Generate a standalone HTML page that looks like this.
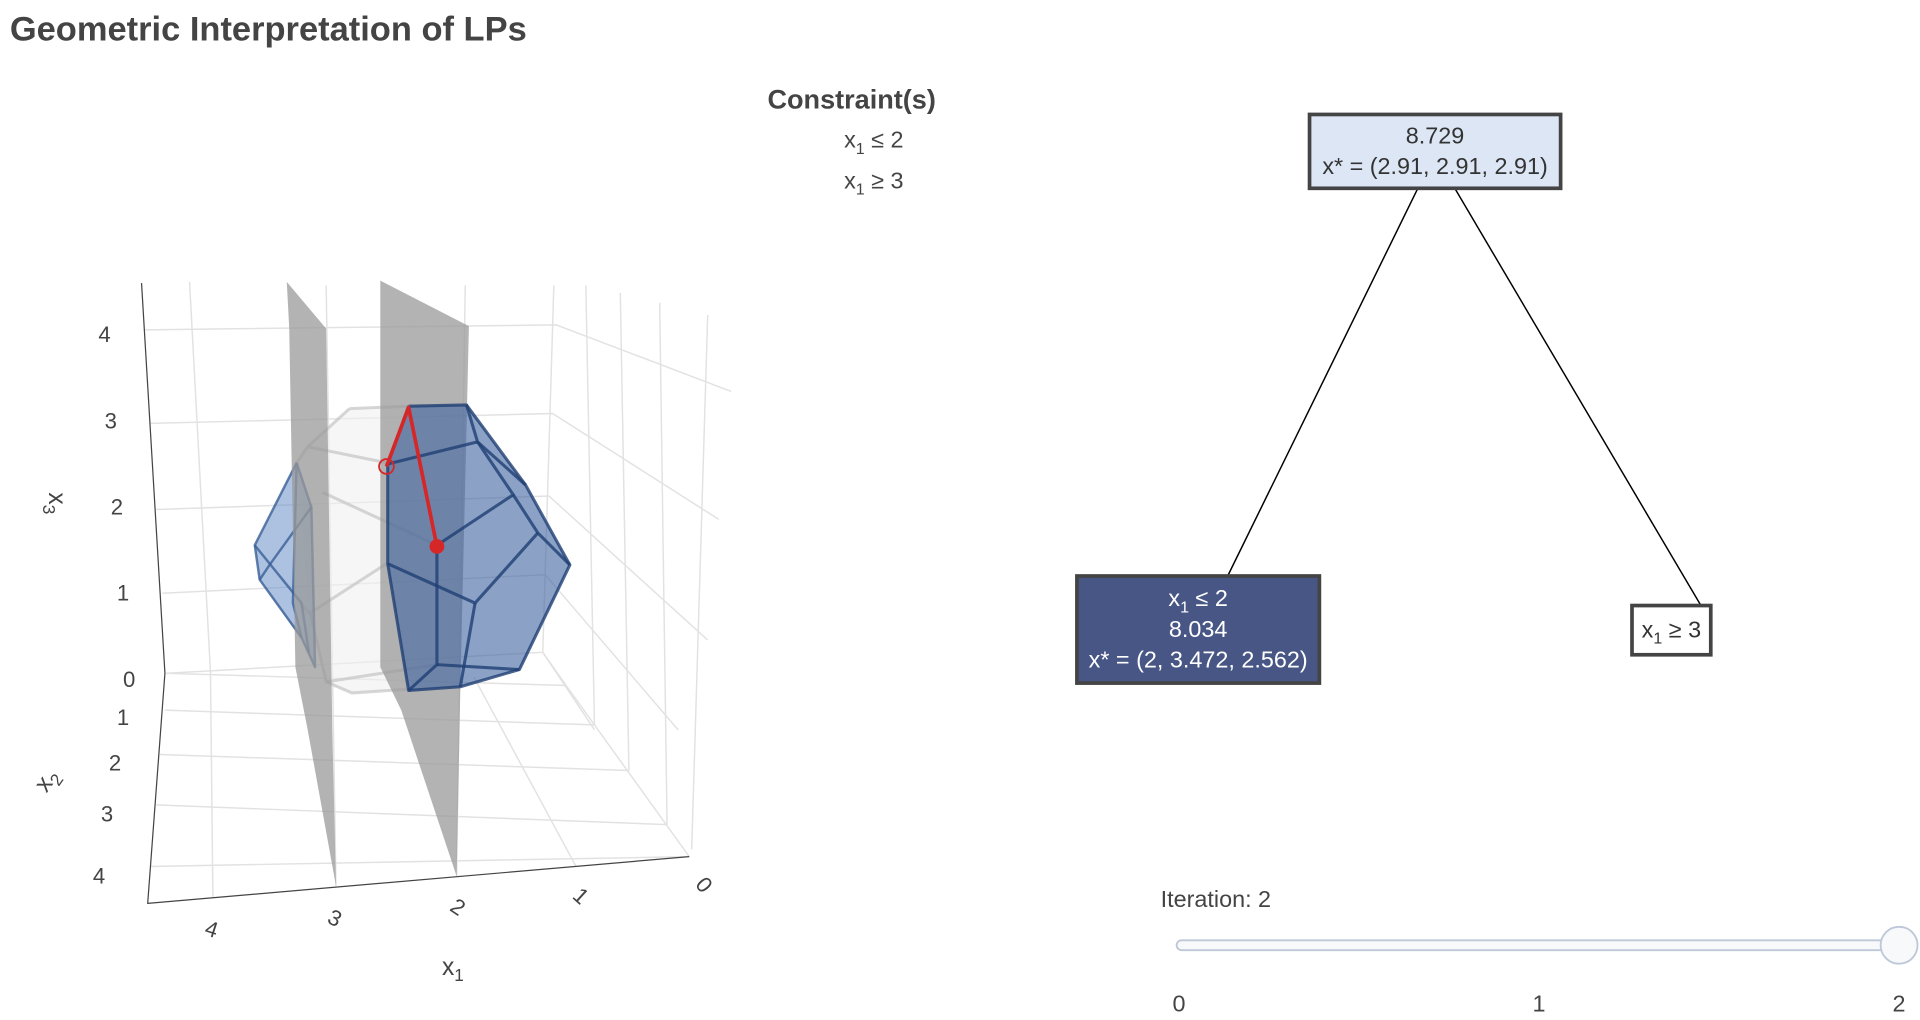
<!DOCTYPE html>
<html><head><meta charset="utf-8"><style>
html,body{margin:0;padding:0;background:#fff;}
svg{display:block;font-family:"Liberation Sans",Arial,sans-serif;}
</style></head><body>
<svg id="fig" width="1920" height="1020" viewBox="0 0 1560 828.75" xmlns="http://www.w3.org/2000/svg">
<text x="8" y="33" font-size="28" font-weight="bold" fill="#444">Geometric Interpretation of LPs</text>
<g fill="#444" text-anchor="middle">
<text x="692" y="88" font-size="22" font-weight="bold">Constraint(s)</text>
<text x="710" y="120" font-size="19">x<tspan font-size="13" dy="5">1</tspan><tspan dy="-5"> ≤ 2</tspan></text>
<text x="710" y="153" font-size="19">x<tspan font-size="13" dy="5">1</tspan><tspan dy="-5"> ≥ 3</tspan></text>
</g>
<g id="scene"></g>
<g id="tree"></g>
<g id="slider"></g>
</svg>
<script>
const NS='http://www.w3.org/2000/svg';
const z3Ticks=['0','1','2','3','4'];
const x2Ticks=['1','2','3','4'];
const x1Ticks=['4','3','2','1','0'];
const treeLabels=[['8.729','x* = (2.91, 2.91, 2.91)'],['x₁ ≤ 2','8.034','x* = (2, 3.472, 2.562)'],['x₁ ≥ 3']];
const treeParents=[-1,0,0];
const treeActive=[false,true,false];
const sliderTicks=['0','1','2'];
const sliderValue=2;
function mk(tag,attrs,parent){const e=document.createElementNS(NS,tag);for(const k in attrs)e.setAttribute(k,attrs[k]);parent.appendChild(e);return e;}
const scene=document.getElementById('scene');
function poly(pts,fill,op,parent,name){const e=mk('polygon',{points:pts,fill:fill,'fill-opacity':op},parent);return e;}
function line(p,stroke,w,parent,name,op){const e=mk('polyline',{points:p,fill:'none',stroke:stroke,'stroke-width':w,'stroke-opacity':op||1,'stroke-linejoin':'round'},parent);return e;}
const G='#e2e2e2';
[['118,268 452,264 594,318'],['122,344 449,336 584,422'],['127,414 446,403 575,520'],['132,482 443,467 551,593'],['136,547 441,530 483,593']].forEach((p,i)=>line(p[0],G,1.2,scene,'back-gridline-z'+i));
[['135,547 460,557'],['134,577 483,589'],['130,613 511,626'],['127,654 542,670'],['122,704 560,696']].forEach((p,i)=>line(p[0],G,1.2,scene,'floor-gridline-x2-'+i));
[['154,229 171,546 173,730'],['265,232 273,720'],['378,232 371,712'],['450,232 441,530 460,557'],['385,550 468,704'],['460,557 560,696']].forEach((p,i)=>line(p[0],G,1.2,scene,'gridline-x1-'+i));
[['476,232 483,589'],['504,238 511,626'],['536,246 542,670'],['575,256 562,690']].forEach((p,i)=>line(p[0],G,1.2,scene,'side-gridline-'+i));
line('115,230 134,547 120,734 560,696','#444',1,scene,'axis-lines');
poly('284,332 332,330 314,376 314,458 331,560 286,563 265,554 251,498 241,376 250,363','#f0f0f0',0.6,scene,'full-polytope');
['284,332 332,330','284,332 250,363 241,376','250,363 314,376','262,400 355,443','314,458 252,498 265,554 286,563 331,560','265,554 355,540','251,498 244,490'].forEach((p,i)=>line(p,'#c4c4c4',2.5,scene,'full-polytope-edge-'+i,0.7));
poly('241,376 253,412 256,542 245,520 211,471 207,443','#5b86c4',0.5,scene,'polytope-x1-ge-3');
['241,376 207,443 211,471 245,518 256,542 253,412 241,376','253,412 219,459 211,471','207,443 245,490 251,530','241,376 238,490 245,518'].forEach((p,i)=>line(p,'#3a5f96',2,scene,'polytope-x1-ge-3-edge-'+i,0.8));
poly('233,229 265,267 270,593 273,720 250,593 240,542 235,267','#999',0.75,scene,'plane-x1-eq-3');
poly('309,228 381,265 374,560 371,712 326,577 309,542','#999',0.75,scene,'plane-x1-eq-2');
poly('332,330 379,329 427,394 463,459 422,544 374,558 332,561 315,458 315,377','#3d64a0',0.6,scene,'polytope-x1-le-2');
['332,330 379,329 388,359 427,394 463,459 422,544 374,558 332,561 315,458 315,377 332,330','315,377 388,359','388,359 417,402 355,443','417,402 437,433 463,459','437,433 386,490 315,458','386,490 374,558','355,443 355,540 332,561','355,540 422,544','379,329 427,394'].forEach((p,i)=>line(p,'#1f3f73',2.5,scene,'polytope-x1-le-2-edge-'+i,0.8));
line('314,379 332,331 355,444','#d62728',3,scene,'solution-path');
let c=mk('circle',{cx:314,cy:379,r:6,fill:'none',stroke:'#d62728','stroke-width':1.5},scene);

c=mk('circle',{cx:355,cy:444,r:6,fill:'#d62728'},scene);

function txt(x,y,s,parent,name,attrs){const e=mk('text',Object.assign({x:x,y:y,'font-size':18,fill:'#444','text-anchor':'middle'},attrs||{}),parent);e.textContent=s;return e;}
const z3Pos=t=>[105-5*(+t),552-70*(+t)];
z3Ticks.forEach(t=>{const p=z3Pos(t);txt(p[0],p[1]+6,t,scene,'x3-tick-'+t);});
const x2Pos=t=>{const v=+t;return [100-(v-1)*6.5,589+37*(v-1)+(v>2?4.5*(v-2)*(v-2):0)];};
x2Ticks.forEach(t=>{const p=x2Pos(t);txt(p[0],p[1],t,scene,'x2-tick-'+t);});
const x1Pos=t=>[572-100*(+t),725+9*(+t)];
x1Ticks.forEach(t=>{const p=x1Pos(t);txt(p[0],p[1],t,scene,'x1-tick-'+t,{transform:`rotate(${50-(+t)*8} ${p[0]} ${p[1]-6})`});});
txt(368,792,'x',scene,'x1-axis-title',{'font-size':20}).innerHTML='x<tspan font-size="14" dy="5">1</tspan>';
txt(38,640,'x',scene,'x2-axis-title',{'font-size':20,transform:'rotate(-55 38 634)'}).innerHTML='x<tspan font-size="14" dy="5">2</tspan>';
txt(44,405,'x',scene,'x3-axis-title',{'font-size':20,transform:'rotate(90 40 405)'}).innerHTML='x<tspan font-size="14" dy="5">3</tspan>';
const tree=document.getElementById('tree');
const boxes=[[1064,93,204,60],[875,468,197,87],[1326,492,64,40]];
treeParents.forEach((p,i)=>{if(p<0)return;const b=boxes[p],q=boxes[i];
 const x1=b[0]+b[2]/2+(i===1?-14:16),x2=q[0]+q[2]/2+24;
 const l=mk('line',{x1:x1,y1:b[1]+b[3],x2:x2,y2:q[1],stroke:'#000','stroke-width':1.2},tree);
 });
treeLabels.forEach((lab,i)=>{const b=boxes[i];
 const g=mk('g',{},tree);
 const fill=treeActive[i]?'#475685':(i===0?'#dce6f5':'#fff');
 mk('rect',{x:b[0],y:b[1],width:b[2],height:b[3],fill:fill,stroke:'#444','stroke-width':3},g);
 const n=lab.length,cy=b[1]+b[3]/2;
 lab.forEach((s,j)=>{const y=cy+(j-(n-1)/2)*25+6;const t=txt(b[0]+b[2]/2,y,'',g,'tree-node-'+i+'-line-'+j,{'font-size':19,fill:treeActive[i]?'#fff':'#333'});
  if(s.startsWith('x₁'))t.innerHTML='x<tspan font-size="13" dy="5">1</tspan><tspan dy="-5">'+s.slice(2)+'</tspan>';else t.textContent=s;});
});
const sl=document.getElementById('slider');
txt(943,737,'Iteration: '+sliderValue,sl,'slider-label',{'text-anchor':'start','font-size':19});
const sx=v=>958+(1543-958)*v/(sliderTicks.length-1);
let r=mk('rect',{x:956,y:764,width:590,height:8,rx:4,fill:'#f8f9fb',stroke:'#bec8d9','stroke-width':1.5},sl);

sliderTicks.forEach((t,i)=>txt(sx(i),822,t,sl,'slider-tick-'+t,{'font-size':19}));
c=mk('circle',{cx:sx(sliderValue),cy:768,r:15,fill:'#f8f9fb',stroke:'#bec8d9','stroke-width':1.5},sl);

</script>
</body></html>
